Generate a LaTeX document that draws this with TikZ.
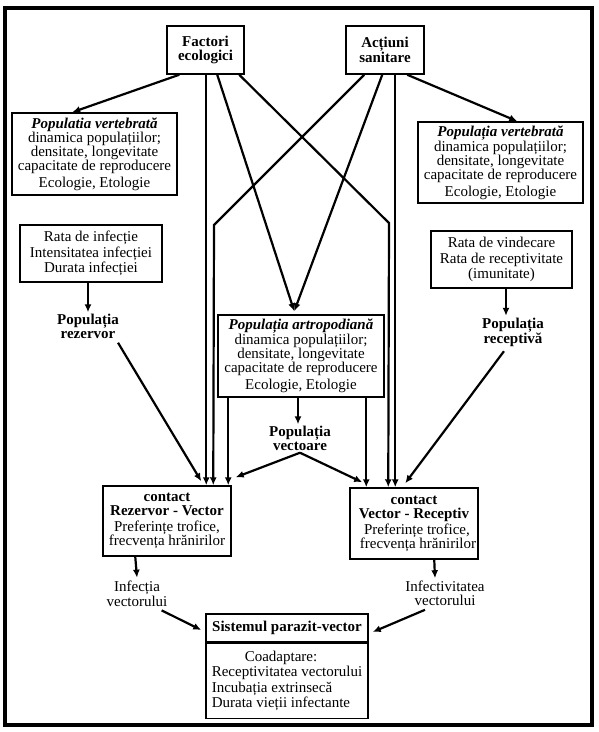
\documentclass[tikz,border=0pt]{standalone}
\usepackage{fontspec}
\setmainfont{Liberation Serif}
\usetikzlibrary{arrows.meta}
\begin{document}
\begin{tikzpicture}[x=1pt,y=-1pt,
  box/.style={draw, line width=1.5pt, inner sep=0pt, align=center, font=\fontsize{15}{14}\selectfont},
  lbl/.style={inner sep=0pt, align=center, font=\fontsize{15}{13.5}\selectfont\bfseries},
  arr/.style={line width=2.2pt, -{Latex[length=8pt,width=7pt]}},
  ln/.style={line width=2.2pt, line join=miter}]
\useasboundingbox (0,0) rectangle (599,732);
\draw[line width=3.5pt] (5,8) rectangle (592,725);

% boxes
\node[box, minimum width=77pt, minimum height=48pt, font=\fontsize{15}{14}\selectfont\bfseries] (fe) at (205.5,50) {Factori\\ecologici};
\node[box, minimum width=78pt, minimum height=48pt, font=\fontsize{15}{14}\selectfont\bfseries] (as) at (385,50) {Acțiuni\\sanitare};
\node[box, minimum width=165pt, minimum height=82pt] (vl) at (94.5,154) {\textbf{\textit{Populatia vertebrată}}\\dinamica populațiilor;\\densitate, longevitate\\capacitate de reproducere\\[3pt]Ecologie, Etologie};
\node[box, minimum width=165pt, minimum height=81pt] (vr) at (500.5,162.5) {\textbf{\textit{Populația vertebrată}}\\dinamica populațiilor;\\densitate, longevitate\\capacitate de reproducere\\[3pt]Ecologie, Etologie};
\node[box, minimum width=142pt, minimum height=57pt, font=\fontsize{15}{15.5}\selectfont] (ri) at (91,253.5) {Rata de infecție\\Intensitatea infecției\\Durata infecției};
\node[box, minimum width=141pt, minimum height=57pt, font=\fontsize{15}{15.5}\selectfont] (rv) at (501.5,259.5) {Rata de vindecare\\Rata de receptivitate\\(imunitate)};
\node[box, minimum width=166pt, minimum height=82pt] (pa) at (301,356) {\textbf{\textit{Populația artropodiană}}\\dinamica populațiilor;\\densitate, longevitate\\capacitate de reproducere\\[3pt]Ecologie, Etologie};
\node[box, minimum width=128pt, minimum height=70pt] (crv) at (167,521) {\textbf{contact}\\\textbf{Rezervor - Vector}\\[2pt]Preferințe trofice,\\frecvența hrănirilor};
\node[box, minimum width=128pt, minimum height=71pt] (cvr) at (414,523.5) {\textbf{contact}\\\textbf{Vector - Receptiv}\\[2pt]\hspace*{6pt}Preferințe trofice,\\\hspace*{8pt}frecvența hrănirilor};
\node[box, minimum width=162pt, minimum height=28pt, font=\fontsize{15}{14}\selectfont\bfseries] (sp) at (287,628) {Sistemul parazit-vector};
\node[box, minimum width=162pt, minimum height=75pt, anchor=north, align=left, font=\fontsize{15}{15.5}\selectfont] (spb) at (sp.south) {\hspace*{33pt}Coadaptare:\\Receptivitatea vectorului\\Incubația extrinsecă\\Durata vieții infectante};

% labels
\node[lbl] (prez) at (88,326.5) {Populația\\rezervor};
\node[lbl] (prec) at (513,332.5) {Populația\\receptivă};
\node[lbl] (pvec) at (300,438.5) {Populația\\vectoare};
\node[lbl, font=\fontsize{15}{13.5}\selectfont] (iv) at (137,593.5) {Infecția\\vectorului};
\node[lbl, font=\fontsize{15}{13.5}\selectfont] (ivt) at (445,593.5) {Infectivitatea\\vectorului};

% turning points
\coordinate (tf) at (389,223);
\coordinate (ta) at (214,225);

% connectors
\draw[arr] ([xshift=13pt]fe.south west) -- ([xshift=61pt]vl.north west);
\draw[arr] ([xshift=62pt]as.south west) -- ([xshift=100pt]vr.north west);
\draw[arr] ([xshift=40pt]fe.south west) -- ([xshift=104pt]crv.north west);
\draw[arr] ([xshift=51pt]fe.south west) -- ([shift={(77,-3)}]pa.north west);
\draw[arr, line join=miter] ([xshift=73pt]fe.south west) -- (tf) -- ([xshift=39pt]cvr.north west);
\draw[arr, line join=miter] ([xshift=19pt]as.south west) -- (ta) -- ([xshift=111pt]crv.north west);
\draw[arr] ([xshift=37pt]as.south west) -- ([shift={(77,-3)}]pa.north west);
\draw[arr] ([xshift=50pt]as.south west) -- ([xshift=46pt]cvr.north west);
\draw[arr] ([xshift=11pt]pa.south west) -- ([xshift=126pt]crv.north west);
\draw[arr] ([xshift=149pt]pa.south west) -- ([xshift=17pt]cvr.north west);
\draw[arr] ([xshift=-3pt]pa.south) -- ([xshift=-2pt,yshift=2pt]pvec.north);
\draw[arr] ([shift={(0,2)}]pvec.south) -- ([shift={(4,-8)}]crv.north east);
\draw[arr] ([shift={(0,2)}]pvec.south) -- ([shift={(13,-5)}]cvr.north west);
\draw[arr] ([shift={(-1,4)}]prez.south east) -- ([shift={(99,-4)}]crv.north west);
\draw[arr] ([shift={(-9,4)}]prec.south) -- ([shift={(56,-4)}]cvr.north west);
\draw[arr] ([xshift=-3pt]ri.south) -- ([xshift=0pt,yshift=2pt]prez.north);
\draw[arr] ([xshift=4.5pt]rv.south) -- ([xshift=-7pt,yshift=2pt]prec.north);
\draw[arr] ([xshift=33pt]crv.south west) -- ([yshift=3pt]iv.north);
\draw[arr] ([xshift=85pt]cvr.south west) -- ([xshift=-10pt,yshift=3pt]ivt.north);
\draw[arr] ([shift={(-6,4)}]iv.south east) -- ([shift={(-4,2)}]sp.west);
\draw[arr] ([shift={(-20,4)}]ivt.south) -- ([shift={(4,4)}]sp.east);
\end{tikzpicture}
\end{document}
